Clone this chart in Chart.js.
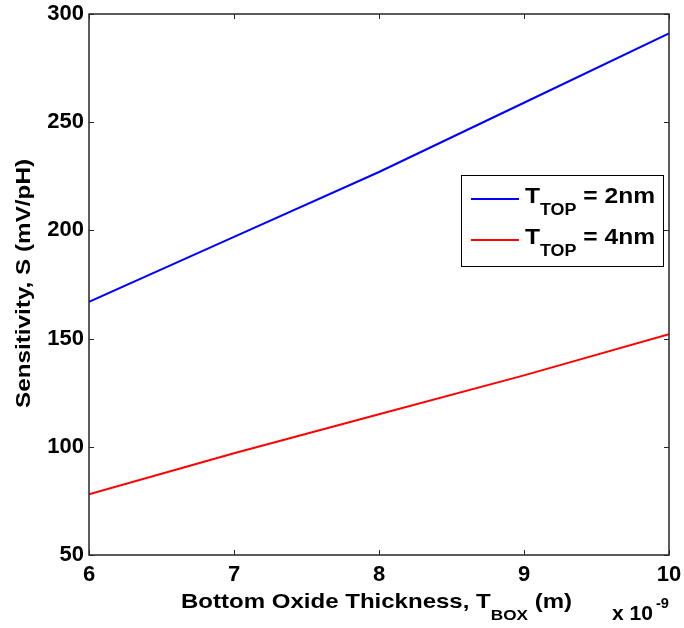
<!DOCTYPE html>
<html>
<head>
<meta charset="utf-8">
<script src="https://cdn.jsdelivr.net/npm/chart.js@4.4.0/dist/chart.umd.min.js"></script>
<style>
  html, body { margin: 0; padding: 0; background: #fff; }
  #wrap { width: 684px; height: 628px; }
</style>
</head>
<body>
<div id="wrap"><canvas id="c" width="684" height="628"></canvas></div>
<script>
// Bottom oxide thickness (units of 1e-9 m)
const tBox = [6, 7, 8, 9, 10];
// Sensitivity S (mV/pH) for the two top-oxide thicknesses
const sTop2nm = [167, 197, 227, 259, 291];
const sTop4nm = [78, 97, 115, 133, 152];
const xTicks = [6, 7, 8, 9, 10];
const yTicks = [50, 100, 150, 200, 250, 300];
// Legend entries: main text, subscript, remainder
const seriesNames = [
  ['T', 'TOP', ' = 2nm'],
  ['T', 'TOP', ' = 4nm']
];
const seriesColors = ['#0000ff', '#ff0000'];

const FONT = '"Liberation Sans", Arial, sans-serif';

// Draws text made of [normal, subscript, normal] runs starting at x,
// stretched horizontally so the whole run spans `width` pixels.
function drawSubText(ctx, x, y, parts, size, subSize, subDrop, width) {
  ctx.save();
  ctx.font = 'bold ' + size + 'px ' + FONT;
  const w0 = ctx.measureText(parts[0]).width;
  const w2 = ctx.measureText(parts[2]).width;
  ctx.font = 'bold ' + subSize + 'px ' + FONT;
  const w1 = ctx.measureText(parts[1]).width;
  const total = w0 + w1 + w2;
  const k = width ? width / total : 1;
  ctx.translate(x, y);
  ctx.scale(k, 1);
  ctx.textAlign = 'left';
  ctx.textBaseline = 'alphabetic';
  ctx.font = 'bold ' + size + 'px ' + FONT;
  ctx.fillText(parts[0], 0, 0);
  ctx.font = 'bold ' + subSize + 'px ' + FONT;
  ctx.fillText(parts[1], w0, subDrop);
  ctx.font = 'bold ' + size + 'px ' + FONT;
  ctx.fillText(parts[2], w0 + w1, 0);
  ctx.restore();
}

function drawStretched(ctx, text, x, y, size, width) {
  ctx.save();
  ctx.font = 'bold ' + size + 'px ' + FONT;
  const w = ctx.measureText(text).width;
  ctx.translate(x, y);
  ctx.scale(width ? width / w : 1, 1);
  ctx.textAlign = 'left';
  ctx.textBaseline = 'alphabetic';
  ctx.fillText(text, 0, 0);
  ctx.restore();
}

const framePlugin = {
  id: 'frame',
  afterDatasetsDraw(chart) {
    const ctx = chart.ctx;
    const a = chart.chartArea;
    const xs = chart.scales.x, ys = chart.scales.y;
    ctx.save();
    ctx.strokeStyle = '#262626';
    ctx.lineWidth = 1.5;
    ctx.strokeRect(a.left, a.top, a.right - a.left, a.bottom - a.top);
    // inward ticks on all four sides
    ctx.lineWidth = 1;
    const L = 5;
    ctx.beginPath();
    xTicks.forEach(v => {
      const px = Math.round(xs.getPixelForValue(v)) + 0.5;
      ctx.moveTo(px, a.bottom); ctx.lineTo(px, a.bottom - L);
      ctx.moveTo(px, a.top); ctx.lineTo(px, a.top + L);
    });
    yTicks.forEach(v => {
      const py = Math.round(ys.getPixelForValue(v)) + 0.5;
      ctx.moveTo(a.left, py); ctx.lineTo(a.left + L, py);
      ctx.moveTo(a.right, py); ctx.lineTo(a.right - L, py);
    });
    ctx.stroke();

    // legend box
    const lx = 461, ly = 175, lw = 202, lh = 91;
    ctx.fillStyle = '#fff';
    ctx.fillRect(lx, ly, lw, lh);
    ctx.strokeStyle = '#000';
    ctx.lineWidth = 1;
    ctx.strokeRect(lx + 0.5, ly + 0.5, lw, lh);
    chart.data.datasets.forEach((ds, i) => {
      const cy = ly + 24 + i * 41;
      ctx.strokeStyle = ds.borderColor;
      ctx.lineWidth = 2;
      ctx.beginPath();
      ctx.moveTo(471, cy); ctx.lineTo(519, cy);
      ctx.stroke();
      ctx.fillStyle = '#000';
      drawSubText(ctx, 525, cy + 4, seriesNames[i], 22, 16, 12, 130);
    });

    // axis titles
    ctx.fillStyle = '#000';
    drawSubText(ctx, 181, 608, ['Bottom Oxide Thickness, T', 'BOX', ' (m)'], 21, 15, 12, 391);
    drawStretched(ctx, 'x 10', 612, 620, 21, 41);
    drawStretched(ctx, '-9', 656, 608, 14, 13);

    ctx.save();
    ctx.translate(30, 408);
    ctx.rotate(-Math.PI / 2);
    ctx.fillStyle = '#000';
    drawStretched(ctx, 'Sensitivity, S (mV/pH)', 0, 0, 21, 249);
    ctx.restore();
    ctx.restore();
  }
};

new Chart(document.getElementById('c'), {
  type: 'line',
  data: {
    labels: tBox,
    datasets: [
      { label: seriesNames[0].join(''), data: tBox.map((x, i) => ({ x, y: sTop2nm[i] })),
        borderColor: seriesColors[0], borderWidth: 2, pointRadius: 0, fill: false, tension: 0 },
      { label: seriesNames[1].join(''), data: tBox.map((x, i) => ({ x, y: sTop4nm[i] })),
        borderColor: seriesColors[1], borderWidth: 2, pointRadius: 0, fill: false, tension: 0 }
    ]
  },
  options: {
    responsive: false,
    animation: false,
    layout: { padding: { top: 14, right: 15, left: 0, bottom: 0 } },
    plugins: { legend: { display: false }, tooltip: { enabled: false } },
    scales: {
      x: {
        type: 'linear', min: 6, max: 10,
        afterBuildTicks: s => { s.ticks = xTicks.map(v => ({ value: v })); },
        afterFit: s => { s.height = 73; s.paddingLeft = 0; s.paddingRight = 0; },
        grid: { display: false, drawTicks: false, tickLength: 0 },
        border: { display: false },
        ticks: { color: '#000', font: { family: FONT, size: 22, weight: 'bold' }, padding: 7, maxRotation: 0 }
      },
      y: {
        type: 'linear', min: 50, max: 300,
        afterBuildTicks: s => { s.ticks = yTicks.map(v => ({ value: v })); },
        afterFit: s => { s.width = 89; s.paddingTop = 0; s.paddingBottom = 0; },
        grid: { display: false, drawTicks: false, tickLength: 0 },
        border: { display: false },
        ticks: { color: '#000', font: { family: FONT, size: 22, weight: 'bold' }, padding: 5 }
      }
    }
  },
  plugins: [framePlugin]
});
</script>
</body>
</html>
